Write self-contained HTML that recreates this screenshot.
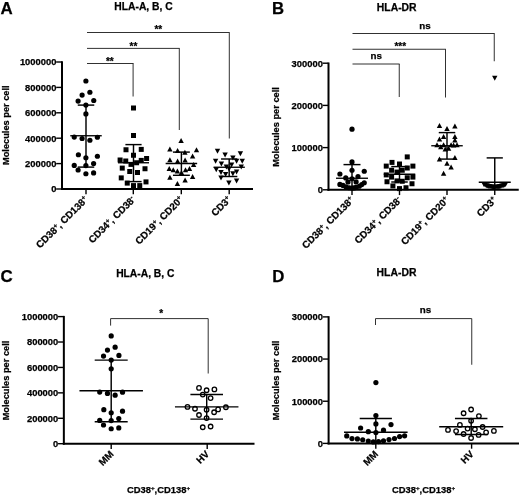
<!DOCTYPE html>
<html><head><meta charset="utf-8"><title>Figure</title>
<style>
html,body{margin:0;padding:0;background:#fff;}
body{width:520px;height:496px;overflow:hidden;font-family:"Liberation Sans",sans-serif;}
svg{display:block;will-change:transform;}
</style></head><body>
<svg width="520" height="496" viewBox="0 0 520 496">
<rect width="520" height="496" fill="#fff"/>
<text x="0.60" y="14.00" font-size="16.9" text-anchor="start" font-family="Liberation Sans, sans-serif" font-weight="bold" stroke="#000" stroke-width="0.25" >A</text>
<text x="143.50" y="9.70" font-size="10.3" text-anchor="middle" font-family="Liberation Sans, sans-serif" font-weight="bold" stroke="#000" stroke-width="0.25" >HLA-A, B, C</text>
<line x1="62.00" y1="61.30" x2="62.00" y2="190.00" stroke="#000" stroke-width="2.0" stroke-linecap="butt"/>
<line x1="61.00" y1="189.00" x2="253.00" y2="189.00" stroke="#000" stroke-width="2.0" stroke-linecap="butt"/>
<line x1="56.20" y1="189.00" x2="62.00" y2="189.00" stroke="#000" stroke-width="1.4" stroke-linecap="butt"/>
<text x="56.40" y="192.40" font-size="9.4" text-anchor="end" font-family="Liberation Sans, sans-serif" font-weight="bold" stroke="#000" stroke-width="0.25" >0</text>
<line x1="56.20" y1="163.60" x2="62.00" y2="163.60" stroke="#000" stroke-width="1.4" stroke-linecap="butt"/>
<text x="56.40" y="167.00" font-size="9.4" text-anchor="end" font-family="Liberation Sans, sans-serif" font-weight="bold" stroke="#000" stroke-width="0.25" >200000</text>
<line x1="56.20" y1="138.20" x2="62.00" y2="138.20" stroke="#000" stroke-width="1.4" stroke-linecap="butt"/>
<text x="56.40" y="141.60" font-size="9.4" text-anchor="end" font-family="Liberation Sans, sans-serif" font-weight="bold" stroke="#000" stroke-width="0.25" >400000</text>
<line x1="56.20" y1="112.80" x2="62.00" y2="112.80" stroke="#000" stroke-width="1.4" stroke-linecap="butt"/>
<text x="56.40" y="116.20" font-size="9.4" text-anchor="end" font-family="Liberation Sans, sans-serif" font-weight="bold" stroke="#000" stroke-width="0.25" >600000</text>
<line x1="56.20" y1="87.40" x2="62.00" y2="87.40" stroke="#000" stroke-width="1.4" stroke-linecap="butt"/>
<text x="56.40" y="90.80" font-size="9.4" text-anchor="end" font-family="Liberation Sans, sans-serif" font-weight="bold" stroke="#000" stroke-width="0.25" >800000</text>
<line x1="56.20" y1="62.00" x2="62.00" y2="62.00" stroke="#000" stroke-width="1.4" stroke-linecap="butt"/>
<text x="56.40" y="65.40" font-size="9.4" text-anchor="end" font-family="Liberation Sans, sans-serif" font-weight="bold" stroke="#000" stroke-width="0.25" >1000000</text>
<line x1="86.00" y1="189.00" x2="86.00" y2="194.30" stroke="#000" stroke-width="1.4" stroke-linecap="butt"/>
<line x1="133.30" y1="189.00" x2="133.30" y2="194.30" stroke="#000" stroke-width="1.4" stroke-linecap="butt"/>
<line x1="181.30" y1="189.00" x2="181.30" y2="194.30" stroke="#000" stroke-width="1.4" stroke-linecap="butt"/>
<line x1="229.20" y1="189.00" x2="229.20" y2="194.30" stroke="#000" stroke-width="1.4" stroke-linecap="butt"/>
<text transform="translate(8.60,125.20) rotate(-90)" font-size="9.25" text-anchor="middle" font-family="Liberation Sans, sans-serif" font-weight="bold" stroke="#000" stroke-width="0.25">Molecules per cell</text>
<line x1="87.00" y1="32.50" x2="229.60" y2="32.50" stroke="#1a1a1a" stroke-width="0.9" stroke-linecap="butt"/>
<line x1="229.30" y1="32.50" x2="229.30" y2="138.50" stroke="#1a1a1a" stroke-width="0.9" stroke-linecap="butt"/>
<line x1="87.00" y1="48.40" x2="179.70" y2="48.40" stroke="#1a1a1a" stroke-width="0.9" stroke-linecap="butt"/>
<line x1="179.30" y1="48.40" x2="179.30" y2="130.00" stroke="#1a1a1a" stroke-width="0.9" stroke-linecap="butt"/>
<line x1="87.00" y1="63.50" x2="133.50" y2="63.50" stroke="#1a1a1a" stroke-width="0.9" stroke-linecap="butt"/>
<line x1="133.10" y1="63.50" x2="133.10" y2="96.50" stroke="#1a1a1a" stroke-width="0.9" stroke-linecap="butt"/>
<text x="158.30" y="33.40" font-size="10" text-anchor="middle" font-family="Liberation Sans, sans-serif" font-weight="bold" stroke="#000" stroke-width="0.25" >**</text>
<text x="133.40" y="49.80" font-size="10" text-anchor="middle" font-family="Liberation Sans, sans-serif" font-weight="bold" stroke="#000" stroke-width="0.25" >**</text>
<text x="109.80" y="65.00" font-size="10" text-anchor="middle" font-family="Liberation Sans, sans-serif" font-weight="bold" stroke="#000" stroke-width="0.25" >**</text>
<line x1="70.25" y1="135.75" x2="101.75" y2="135.75" stroke="#000" stroke-width="1.35" stroke-linecap="butt"/>
<line x1="77.75" y1="105.10" x2="94.25" y2="105.10" stroke="#000" stroke-width="1.45" stroke-linecap="butt"/>
<line x1="77.75" y1="167.10" x2="94.25" y2="167.10" stroke="#000" stroke-width="1.45" stroke-linecap="butt"/>
<line x1="86.00" y1="105.10" x2="86.00" y2="167.10" stroke="#000" stroke-width="1.45" stroke-linecap="butt"/>
<circle cx="85.90" cy="81.00" r="2.6" fill="#000"/>
<circle cx="89.90" cy="92.25" r="2.6" fill="#000"/>
<circle cx="82.10" cy="95.10" r="2.6" fill="#000"/>
<circle cx="78.10" cy="101.10" r="2.6" fill="#000"/>
<circle cx="93.75" cy="100.50" r="2.6" fill="#000"/>
<circle cx="85.90" cy="105.10" r="2.6" fill="#000"/>
<circle cx="85.90" cy="113.90" r="2.6" fill="#000"/>
<circle cx="74.25" cy="137.10" r="2.6" fill="#000"/>
<circle cx="82.10" cy="138.50" r="2.6" fill="#000"/>
<circle cx="89.90" cy="140.25" r="2.6" fill="#000"/>
<circle cx="97.40" cy="137.25" r="2.6" fill="#000"/>
<circle cx="78.40" cy="154.75" r="2.6" fill="#000"/>
<circle cx="85.90" cy="157.75" r="2.6" fill="#000"/>
<circle cx="97.40" cy="156.25" r="2.6" fill="#000"/>
<circle cx="74.25" cy="165.40" r="2.6" fill="#000"/>
<circle cx="85.90" cy="165.60" r="2.6" fill="#000"/>
<circle cx="93.60" cy="163.50" r="2.6" fill="#000"/>
<circle cx="78.10" cy="170.00" r="2.6" fill="#000"/>
<circle cx="85.90" cy="173.75" r="2.6" fill="#000"/>
<circle cx="93.60" cy="172.90" r="2.6" fill="#000"/>
<line x1="118.00" y1="162.75" x2="149.00" y2="162.75" stroke="#000" stroke-width="1.35" stroke-linecap="butt"/>
<line x1="125.40" y1="144.60" x2="141.60" y2="144.60" stroke="#000" stroke-width="1.45" stroke-linecap="butt"/>
<line x1="125.40" y1="181.60" x2="141.60" y2="181.60" stroke="#000" stroke-width="1.45" stroke-linecap="butt"/>
<line x1="133.50" y1="144.60" x2="133.50" y2="181.60" stroke="#000" stroke-width="1.45" stroke-linecap="butt"/>
<rect x="131.00" y="105.50" width="5.0" height="5.0" fill="#000"/>
<rect x="131.00" y="133.00" width="5.0" height="5.0" fill="#000"/>
<rect x="123.50" y="147.25" width="5.0" height="5.0" fill="#000"/>
<rect x="138.75" y="146.90" width="5.0" height="5.0" fill="#000"/>
<rect x="131.00" y="152.75" width="5.0" height="5.0" fill="#000"/>
<rect x="117.60" y="157.50" width="5.0" height="5.0" fill="#000"/>
<rect x="123.25" y="158.50" width="5.0" height="5.0" fill="#000"/>
<rect x="138.75" y="157.90" width="5.0" height="5.0" fill="#000"/>
<rect x="144.10" y="156.00" width="5.0" height="5.0" fill="#000"/>
<rect x="128.50" y="161.90" width="5.0" height="5.0" fill="#000"/>
<rect x="134.10" y="160.25" width="5.0" height="5.0" fill="#000"/>
<rect x="119.75" y="165.60" width="5.0" height="5.0" fill="#000"/>
<rect x="142.50" y="166.25" width="5.0" height="5.0" fill="#000"/>
<rect x="127.25" y="169.00" width="5.0" height="5.0" fill="#000"/>
<rect x="135.00" y="170.00" width="5.0" height="5.0" fill="#000"/>
<rect x="118.75" y="175.40" width="5.0" height="5.0" fill="#000"/>
<rect x="143.50" y="179.40" width="5.0" height="5.0" fill="#000"/>
<rect x="124.75" y="180.60" width="5.0" height="5.0" fill="#000"/>
<rect x="131.00" y="183.10" width="5.0" height="5.0" fill="#000"/>
<rect x="137.25" y="183.10" width="5.0" height="5.0" fill="#000"/>
<line x1="165.65" y1="163.50" x2="197.15" y2="163.50" stroke="#000" stroke-width="1.35" stroke-linecap="butt"/>
<line x1="172.95" y1="152.10" x2="189.85" y2="152.10" stroke="#000" stroke-width="1.45" stroke-linecap="butt"/>
<line x1="172.95" y1="175.30" x2="189.85" y2="175.30" stroke="#000" stroke-width="1.45" stroke-linecap="butt"/>
<line x1="181.40" y1="152.10" x2="181.40" y2="175.30" stroke="#000" stroke-width="1.45" stroke-linecap="butt"/>
<polygon points="181.10,138.10 183.80,143.10 178.40,143.10" fill="#000"/>
<polygon points="169.90,146.60 172.60,151.60 167.20,151.60" fill="#000"/>
<polygon points="177.60,148.10 180.30,153.10 174.90,153.10" fill="#000"/>
<polygon points="184.90,149.75 187.60,154.75 182.20,154.75" fill="#000"/>
<polygon points="196.50,147.25 199.20,152.25 193.80,152.25" fill="#000"/>
<polygon points="192.60,153.40 195.30,158.40 189.90,158.40" fill="#000"/>
<polygon points="169.90,157.25 172.60,162.25 167.20,162.25" fill="#000"/>
<polygon points="177.60,158.40 180.30,163.40 174.90,163.40" fill="#000"/>
<polygon points="185.10,157.50 187.80,162.50 182.40,162.50" fill="#000"/>
<polygon points="193.60,161.90 196.30,166.90 190.90,166.90" fill="#000"/>
<polygon points="169.25,165.90 171.95,170.90 166.55,170.90" fill="#000"/>
<polygon points="173.25,167.25 175.95,172.25 170.55,172.25" fill="#000"/>
<polygon points="177.40,168.50 180.10,173.50 174.70,173.50" fill="#000"/>
<polygon points="181.50,170.00 184.20,175.00 178.80,175.00" fill="#000"/>
<polygon points="185.50,167.25 188.20,172.25 182.80,172.25" fill="#000"/>
<polygon points="189.50,166.00 192.20,171.00 186.80,171.00" fill="#000"/>
<polygon points="169.90,174.75 172.60,179.75 167.20,179.75" fill="#000"/>
<polygon points="192.60,174.10 195.30,179.10 189.90,179.10" fill="#000"/>
<polygon points="185.10,177.50 187.80,182.50 182.40,182.50" fill="#000"/>
<polygon points="177.40,181.00 180.10,186.00 174.70,186.00" fill="#000"/>
<line x1="213.55" y1="167.25" x2="244.85" y2="167.25" stroke="#000" stroke-width="1.35" stroke-linecap="butt"/>
<line x1="221.05" y1="159.00" x2="237.35" y2="159.00" stroke="#000" stroke-width="1.45" stroke-linecap="butt"/>
<line x1="221.05" y1="176.50" x2="237.35" y2="176.50" stroke="#000" stroke-width="1.45" stroke-linecap="butt"/>
<line x1="229.20" y1="159.00" x2="229.20" y2="176.50" stroke="#000" stroke-width="1.45" stroke-linecap="butt"/>
<polygon points="217.50,153.75 220.20,148.75 214.80,148.75" fill="#000"/>
<polygon points="225.10,157.50 227.80,152.50 222.40,152.50" fill="#000"/>
<polygon points="240.40,156.25 243.10,151.25 237.70,151.25" fill="#000"/>
<polygon points="232.90,160.60 235.60,155.60 230.20,155.60" fill="#000"/>
<polygon points="215.60,163.75 218.30,158.75 212.90,158.75" fill="#000"/>
<polygon points="236.60,163.75 239.30,158.75 233.90,158.75" fill="#000"/>
<polygon points="242.25,163.75 244.95,158.75 239.55,158.75" fill="#000"/>
<polygon points="221.40,166.50 224.10,161.50 218.70,161.50" fill="#000"/>
<polygon points="226.40,169.40 229.10,164.40 223.70,164.40" fill="#000"/>
<polygon points="231.60,167.50 234.30,162.50 228.90,162.50" fill="#000"/>
<polygon points="241.25,169.60 243.95,164.60 238.55,164.60" fill="#000"/>
<polygon points="216.25,172.25 218.95,167.25 213.55,167.25" fill="#000"/>
<polygon points="221.00,175.00 223.70,170.00 218.30,170.00" fill="#000"/>
<polygon points="236.60,174.40 239.30,169.40 233.90,169.40" fill="#000"/>
<polygon points="225.60,177.10 228.30,172.10 222.90,172.10" fill="#000"/>
<polygon points="232.90,176.25 235.60,171.25 230.20,171.25" fill="#000"/>
<polygon points="221.00,180.60 223.70,175.60 218.30,175.60" fill="#000"/>
<polygon points="236.60,183.50 239.30,178.50 233.90,178.50" fill="#000"/>
<polygon points="228.90,185.60 231.60,180.60 226.20,180.60" fill="#000"/>
<polygon points="229.00,171.50 231.70,166.50 226.30,166.50" fill="#000"/>
<text transform="translate(88.60,200.30) rotate(-45)" font-size="9.8" text-anchor="end" font-family="Liberation Sans, sans-serif" font-weight="bold" stroke="#000" stroke-width="0.25">CD38<tspan font-size="6.47" dy="-3.33">+</tspan><tspan dy="3.33" font-size="6.47">&#8203;</tspan>, CD138<tspan font-size="6.47" dy="-3.33">+</tspan><tspan dy="3.33" font-size="6.47">&#8203;</tspan></text>
<text transform="translate(135.90,200.30) rotate(-45)" font-size="9.8" text-anchor="end" font-family="Liberation Sans, sans-serif" font-weight="bold" stroke="#000" stroke-width="0.25">CD34<tspan font-size="6.47" dy="-3.33">+</tspan><tspan dy="3.33" font-size="6.47">&#8203;</tspan>, CD38<tspan font-size="6.47" dy="-3.33">-</tspan><tspan dy="3.33" font-size="6.47">&#8203;</tspan></text>
<text transform="translate(183.90,200.30) rotate(-45)" font-size="9.8" text-anchor="end" font-family="Liberation Sans, sans-serif" font-weight="bold" stroke="#000" stroke-width="0.25">CD19<tspan font-size="6.47" dy="-3.33">+</tspan><tspan dy="3.33" font-size="6.47">&#8203;</tspan>, CD20<tspan font-size="6.47" dy="-3.33">+</tspan><tspan dy="3.33" font-size="6.47">&#8203;</tspan></text>
<text transform="translate(231.80,200.30) rotate(-45)" font-size="9.8" text-anchor="end" font-family="Liberation Sans, sans-serif" font-weight="bold" stroke="#000" stroke-width="0.25">CD3<tspan font-size="6.47" dy="-3.33">+</tspan><tspan dy="3.33" font-size="6.47">&#8203;</tspan></text>
<text x="272.10" y="13.90" font-size="16.7" text-anchor="start" font-family="Liberation Sans, sans-serif" font-weight="bold" stroke="#000" stroke-width="0.25" >B</text>
<text x="396.70" y="10.50" font-size="10.4" text-anchor="middle" font-family="Liberation Sans, sans-serif" font-weight="bold" stroke="#000" stroke-width="0.25" >HLA-DR</text>
<line x1="328.50" y1="62.50" x2="328.50" y2="190.80" stroke="#000" stroke-width="2.0" stroke-linecap="butt"/>
<line x1="327.50" y1="189.80" x2="518.75" y2="189.80" stroke="#000" stroke-width="2.0" stroke-linecap="butt"/>
<line x1="322.70" y1="189.80" x2="328.50" y2="189.80" stroke="#000" stroke-width="1.4" stroke-linecap="butt"/>
<text x="322.90" y="193.20" font-size="9.4" text-anchor="end" font-family="Liberation Sans, sans-serif" font-weight="bold" stroke="#000" stroke-width="0.25" >0</text>
<line x1="322.70" y1="147.60" x2="328.50" y2="147.60" stroke="#000" stroke-width="1.4" stroke-linecap="butt"/>
<text x="322.90" y="151.00" font-size="9.4" text-anchor="end" font-family="Liberation Sans, sans-serif" font-weight="bold" stroke="#000" stroke-width="0.25" >100000</text>
<line x1="322.70" y1="105.40" x2="328.50" y2="105.40" stroke="#000" stroke-width="1.4" stroke-linecap="butt"/>
<text x="322.90" y="108.80" font-size="9.4" text-anchor="end" font-family="Liberation Sans, sans-serif" font-weight="bold" stroke="#000" stroke-width="0.25" >200000</text>
<line x1="322.70" y1="63.20" x2="328.50" y2="63.20" stroke="#000" stroke-width="1.4" stroke-linecap="butt"/>
<text x="322.90" y="66.60" font-size="9.4" text-anchor="end" font-family="Liberation Sans, sans-serif" font-weight="bold" stroke="#000" stroke-width="0.25" >300000</text>
<line x1="352.00" y1="189.80" x2="352.00" y2="195.10" stroke="#000" stroke-width="1.4" stroke-linecap="butt"/>
<line x1="399.50" y1="189.80" x2="399.50" y2="195.10" stroke="#000" stroke-width="1.4" stroke-linecap="butt"/>
<line x1="447.00" y1="189.80" x2="447.00" y2="195.10" stroke="#000" stroke-width="1.4" stroke-linecap="butt"/>
<line x1="494.75" y1="189.80" x2="494.75" y2="195.10" stroke="#000" stroke-width="1.4" stroke-linecap="butt"/>
<text transform="translate(278.80,127.00) rotate(-90)" font-size="9.25" text-anchor="middle" font-family="Liberation Sans, sans-serif" font-weight="bold" stroke="#000" stroke-width="0.25">Molecules per cell</text>
<line x1="352.50" y1="33.50" x2="494.60" y2="33.50" stroke="#1a1a1a" stroke-width="0.9" stroke-linecap="butt"/>
<line x1="494.25" y1="33.50" x2="494.25" y2="61.25" stroke="#1a1a1a" stroke-width="0.9" stroke-linecap="butt"/>
<line x1="352.50" y1="49.25" x2="445.90" y2="49.25" stroke="#1a1a1a" stroke-width="0.9" stroke-linecap="butt"/>
<line x1="445.50" y1="49.25" x2="445.50" y2="97.50" stroke="#1a1a1a" stroke-width="0.9" stroke-linecap="butt"/>
<line x1="352.50" y1="64.00" x2="399.60" y2="64.00" stroke="#1a1a1a" stroke-width="0.9" stroke-linecap="butt"/>
<line x1="399.25" y1="64.00" x2="399.25" y2="97.00" stroke="#1a1a1a" stroke-width="0.9" stroke-linecap="butt"/>
<text x="425.00" y="28.60" font-size="9.8" text-anchor="middle" font-family="Liberation Sans, sans-serif" font-weight="bold" stroke="#000" stroke-width="0.25" >ns</text>
<text x="400.30" y="50.00" font-size="10" text-anchor="middle" font-family="Liberation Sans, sans-serif" font-weight="bold" stroke="#000" stroke-width="0.25" >***</text>
<text x="376.30" y="58.70" font-size="9.8" text-anchor="middle" font-family="Liberation Sans, sans-serif" font-weight="bold" stroke="#000" stroke-width="0.25" >ns</text>
<line x1="336.00" y1="178.25" x2="368.00" y2="178.25" stroke="#000" stroke-width="1.35" stroke-linecap="butt"/>
<line x1="343.50" y1="164.60" x2="360.50" y2="164.60" stroke="#000" stroke-width="1.45" stroke-linecap="butt"/>
<line x1="352.00" y1="164.60" x2="352.00" y2="189.80" stroke="#000" stroke-width="1.45" stroke-linecap="butt"/>
<circle cx="352.00" cy="129.20" r="2.6" fill="#000"/>
<circle cx="352.00" cy="161.90" r="2.6" fill="#000"/>
<circle cx="352.00" cy="170.25" r="2.6" fill="#000"/>
<circle cx="364.25" cy="171.25" r="2.6" fill="#000"/>
<circle cx="339.90" cy="174.00" r="2.6" fill="#000"/>
<circle cx="358.00" cy="176.60" r="2.6" fill="#000"/>
<circle cx="345.75" cy="177.90" r="2.6" fill="#000"/>
<circle cx="352.00" cy="178.75" r="2.6" fill="#000"/>
<circle cx="348.00" cy="181.90" r="2.6" fill="#000"/>
<circle cx="356.10" cy="181.90" r="2.6" fill="#000"/>
<circle cx="364.25" cy="182.75" r="2.6" fill="#000"/>
<circle cx="339.90" cy="184.40" r="2.6" fill="#000"/>
<circle cx="361.75" cy="184.60" r="2.6" fill="#000"/>
<circle cx="343.00" cy="185.40" r="2.6" fill="#000"/>
<circle cx="359.25" cy="186.25" r="2.6" fill="#000"/>
<circle cx="346.10" cy="186.90" r="2.6" fill="#000"/>
<circle cx="356.10" cy="187.25" r="2.6" fill="#000"/>
<circle cx="349.25" cy="187.75" r="2.6" fill="#000"/>
<circle cx="352.00" cy="188.10" r="2.6" fill="#000"/>
<circle cx="354.00" cy="187.90" r="2.6" fill="#000"/>
<line x1="383.75" y1="174.20" x2="415.25" y2="174.20" stroke="#000" stroke-width="1.35" stroke-linecap="butt"/>
<line x1="391.25" y1="166.60" x2="407.75" y2="166.60" stroke="#000" stroke-width="1.45" stroke-linecap="butt"/>
<line x1="391.25" y1="182.00" x2="407.75" y2="182.00" stroke="#000" stroke-width="1.45" stroke-linecap="butt"/>
<line x1="399.50" y1="166.60" x2="399.50" y2="182.00" stroke="#000" stroke-width="1.45" stroke-linecap="butt"/>
<rect x="404.75" y="154.40" width="5.0" height="5.0" fill="#000"/>
<rect x="389.50" y="159.90" width="5.0" height="5.0" fill="#000"/>
<rect x="397.00" y="161.50" width="5.0" height="5.0" fill="#000"/>
<rect x="383.75" y="163.60" width="5.0" height="5.0" fill="#000"/>
<rect x="410.40" y="163.60" width="5.0" height="5.0" fill="#000"/>
<rect x="404.75" y="165.50" width="5.0" height="5.0" fill="#000"/>
<rect x="389.10" y="167.75" width="5.0" height="5.0" fill="#000"/>
<rect x="399.75" y="167.75" width="5.0" height="5.0" fill="#000"/>
<rect x="394.50" y="169.60" width="5.0" height="5.0" fill="#000"/>
<rect x="383.75" y="172.40" width="5.0" height="5.0" fill="#000"/>
<rect x="389.10" y="174.60" width="5.0" height="5.0" fill="#000"/>
<rect x="404.75" y="175.25" width="5.0" height="5.0" fill="#000"/>
<rect x="410.40" y="174.60" width="5.0" height="5.0" fill="#000"/>
<rect x="394.50" y="178.40" width="5.0" height="5.0" fill="#000"/>
<rect x="399.75" y="178.75" width="5.0" height="5.0" fill="#000"/>
<rect x="384.50" y="179.25" width="5.0" height="5.0" fill="#000"/>
<rect x="409.50" y="181.25" width="5.0" height="5.0" fill="#000"/>
<rect x="390.40" y="183.40" width="5.0" height="5.0" fill="#000"/>
<rect x="403.50" y="185.25" width="5.0" height="5.0" fill="#000"/>
<rect x="397.00" y="186.10" width="5.0" height="5.0" fill="#000"/>
<line x1="431.25" y1="145.75" x2="462.75" y2="145.75" stroke="#000" stroke-width="1.35" stroke-linecap="butt"/>
<line x1="438.75" y1="132.60" x2="455.25" y2="132.60" stroke="#000" stroke-width="1.45" stroke-linecap="butt"/>
<line x1="438.75" y1="159.10" x2="455.25" y2="159.10" stroke="#000" stroke-width="1.45" stroke-linecap="butt"/>
<line x1="447.00" y1="132.60" x2="447.00" y2="159.10" stroke="#000" stroke-width="1.45" stroke-linecap="butt"/>
<polygon points="439.50,122.90 442.20,127.90 436.80,127.90" fill="#000"/>
<polygon points="454.90,123.50 457.60,128.50 452.20,128.50" fill="#000"/>
<polygon points="447.00,126.10 449.70,131.10 444.30,131.10" fill="#000"/>
<polygon points="443.60,133.90 446.30,138.90 440.90,138.90" fill="#000"/>
<polygon points="454.90,134.10 457.60,139.10 452.20,139.10" fill="#000"/>
<polygon points="439.50,136.40 442.20,141.40 436.80,141.40" fill="#000"/>
<polygon points="454.90,137.60 457.60,142.60 452.20,142.60" fill="#000"/>
<polygon points="437.00,142.25 439.70,147.25 434.30,147.25" fill="#000"/>
<polygon points="443.60,142.25 446.30,147.25 440.90,147.25" fill="#000"/>
<polygon points="451.10,142.25 453.80,147.25 448.40,147.25" fill="#000"/>
<polygon points="457.00,142.25 459.70,147.25 454.30,147.25" fill="#000"/>
<polygon points="440.75,144.25 443.45,149.25 438.05,149.25" fill="#000"/>
<polygon points="453.60,142.60 456.30,147.60 450.90,147.60" fill="#000"/>
<polygon points="445.25,146.60 447.95,151.60 442.55,151.60" fill="#000"/>
<polygon points="448.60,145.75 451.30,150.75 445.90,150.75" fill="#000"/>
<polygon points="439.50,156.40 442.20,161.40 436.80,161.40" fill="#000"/>
<polygon points="454.90,155.10 457.60,160.10 452.20,160.10" fill="#000"/>
<polygon points="447.00,160.75 449.70,165.75 444.30,165.75" fill="#000"/>
<polygon points="451.10,164.50 453.80,169.50 448.40,169.50" fill="#000"/>
<polygon points="443.60,170.75 446.30,175.75 440.90,175.75" fill="#000"/>
<polygon points="494.75,80.75 497.45,75.75 492.05,75.75" fill="#000"/>
<line x1="478.75" y1="182.25" x2="510.75" y2="182.25" stroke="#000" stroke-width="1.35" stroke-linecap="butt"/>
<line x1="486.65" y1="157.90" x2="502.85" y2="157.90" stroke="#000" stroke-width="1.45" stroke-linecap="butt"/>
<line x1="494.75" y1="157.90" x2="494.75" y2="189.80" stroke="#000" stroke-width="1.45" stroke-linecap="butt"/>
<polygon points="483.95,187.00 486.65,182.00 481.25,182.00" fill="#000"/>
<polygon points="485.15,187.61 487.85,182.61 482.45,182.61" fill="#000"/>
<polygon points="486.35,188.15 489.05,183.15 483.65,183.15" fill="#000"/>
<polygon points="487.55,188.61 490.25,183.61 484.85,183.61" fill="#000"/>
<polygon points="488.75,189.00 491.45,184.00 486.05,184.00" fill="#000"/>
<polygon points="489.95,189.33 492.65,184.33 487.25,184.33" fill="#000"/>
<polygon points="491.15,189.58 493.85,184.58 488.45,184.58" fill="#000"/>
<polygon points="492.35,189.76 495.05,184.76 489.65,184.76" fill="#000"/>
<polygon points="493.55,189.86 496.25,184.86 490.85,184.86" fill="#000"/>
<polygon points="494.75,189.90 497.45,184.90 492.05,184.90" fill="#000"/>
<polygon points="495.95,189.86 498.65,184.86 493.25,184.86" fill="#000"/>
<polygon points="497.15,189.76 499.85,184.76 494.45,184.76" fill="#000"/>
<polygon points="498.35,189.58 501.05,184.58 495.65,184.58" fill="#000"/>
<polygon points="499.55,189.33 502.25,184.33 496.85,184.33" fill="#000"/>
<polygon points="500.75,189.00 503.45,184.00 498.05,184.00" fill="#000"/>
<polygon points="501.95,188.61 504.65,183.61 499.25,183.61" fill="#000"/>
<polygon points="503.15,188.15 505.85,183.15 500.45,183.15" fill="#000"/>
<polygon points="504.35,187.61 507.05,182.61 501.65,182.61" fill="#000"/>
<polygon points="505.55,187.00 508.25,182.00 502.85,182.00" fill="#000"/>
<text transform="translate(354.60,200.80) rotate(-45)" font-size="9.8" text-anchor="end" font-family="Liberation Sans, sans-serif" font-weight="bold" stroke="#000" stroke-width="0.25">CD38<tspan font-size="6.47" dy="-3.33">+</tspan><tspan dy="3.33" font-size="6.47">&#8203;</tspan>, CD138<tspan font-size="6.47" dy="-3.33">+</tspan><tspan dy="3.33" font-size="6.47">&#8203;</tspan></text>
<text transform="translate(402.10,200.80) rotate(-45)" font-size="9.8" text-anchor="end" font-family="Liberation Sans, sans-serif" font-weight="bold" stroke="#000" stroke-width="0.25">CD34<tspan font-size="6.47" dy="-3.33">+</tspan><tspan dy="3.33" font-size="6.47">&#8203;</tspan>, CD38<tspan font-size="6.47" dy="-3.33">-</tspan><tspan dy="3.33" font-size="6.47">&#8203;</tspan></text>
<text transform="translate(449.60,200.80) rotate(-45)" font-size="9.8" text-anchor="end" font-family="Liberation Sans, sans-serif" font-weight="bold" stroke="#000" stroke-width="0.25">CD19<tspan font-size="6.47" dy="-3.33">+</tspan><tspan dy="3.33" font-size="6.47">&#8203;</tspan>, CD20<tspan font-size="6.47" dy="-3.33">+</tspan><tspan dy="3.33" font-size="6.47">&#8203;</tspan></text>
<text transform="translate(497.35,200.80) rotate(-45)" font-size="9.8" text-anchor="end" font-family="Liberation Sans, sans-serif" font-weight="bold" stroke="#000" stroke-width="0.25">CD3<tspan font-size="6.47" dy="-3.33">+</tspan><tspan dy="3.33" font-size="6.47">&#8203;</tspan></text>
<text x="0.50" y="281.80" font-size="16.9" text-anchor="start" font-family="Liberation Sans, sans-serif" font-weight="bold" stroke="#000" stroke-width="0.25" >C</text>
<text x="145.30" y="276.50" font-size="10.3" text-anchor="middle" font-family="Liberation Sans, sans-serif" font-weight="bold" stroke="#000" stroke-width="0.25" >HLA-A, B, C</text>
<line x1="63.85" y1="315.90" x2="63.85" y2="444.70" stroke="#000" stroke-width="2.0" stroke-linecap="butt"/>
<line x1="62.85" y1="443.70" x2="254.50" y2="443.70" stroke="#000" stroke-width="2.0" stroke-linecap="butt"/>
<line x1="58.05" y1="443.70" x2="63.85" y2="443.70" stroke="#000" stroke-width="1.4" stroke-linecap="butt"/>
<text x="58.25" y="447.10" font-size="9.4" text-anchor="end" font-family="Liberation Sans, sans-serif" font-weight="bold" stroke="#000" stroke-width="0.25" >0</text>
<line x1="58.05" y1="418.28" x2="63.85" y2="418.28" stroke="#000" stroke-width="1.4" stroke-linecap="butt"/>
<text x="58.25" y="421.68" font-size="9.4" text-anchor="end" font-family="Liberation Sans, sans-serif" font-weight="bold" stroke="#000" stroke-width="0.25" >200000</text>
<line x1="58.05" y1="392.86" x2="63.85" y2="392.86" stroke="#000" stroke-width="1.4" stroke-linecap="butt"/>
<text x="58.25" y="396.26" font-size="9.4" text-anchor="end" font-family="Liberation Sans, sans-serif" font-weight="bold" stroke="#000" stroke-width="0.25" >400000</text>
<line x1="58.05" y1="367.44" x2="63.85" y2="367.44" stroke="#000" stroke-width="1.4" stroke-linecap="butt"/>
<text x="58.25" y="370.84" font-size="9.4" text-anchor="end" font-family="Liberation Sans, sans-serif" font-weight="bold" stroke="#000" stroke-width="0.25" >600000</text>
<line x1="58.05" y1="342.02" x2="63.85" y2="342.02" stroke="#000" stroke-width="1.4" stroke-linecap="butt"/>
<text x="58.25" y="345.42" font-size="9.4" text-anchor="end" font-family="Liberation Sans, sans-serif" font-weight="bold" stroke="#000" stroke-width="0.25" >800000</text>
<line x1="58.05" y1="316.60" x2="63.85" y2="316.60" stroke="#000" stroke-width="1.4" stroke-linecap="butt"/>
<text x="58.25" y="320.00" font-size="9.4" text-anchor="end" font-family="Liberation Sans, sans-serif" font-weight="bold" stroke="#000" stroke-width="0.25" >1000000</text>
<line x1="111.20" y1="443.70" x2="111.20" y2="449.00" stroke="#000" stroke-width="1.4" stroke-linecap="butt"/>
<line x1="207.20" y1="443.70" x2="207.20" y2="449.00" stroke="#000" stroke-width="1.4" stroke-linecap="butt"/>
<text transform="translate(9.20,380.50) rotate(-90)" font-size="9.25" text-anchor="middle" font-family="Liberation Sans, sans-serif" font-weight="bold" stroke="#000" stroke-width="0.25">Molecules per cell</text>
<polyline points="110.60,325.60 110.60,318.60 208.20,318.60 208.20,373.50" fill="none" stroke="#1a1a1a" stroke-width="0.9"/>
<text x="161.30" y="317.30" font-size="10" text-anchor="middle" font-family="Liberation Sans, sans-serif" font-weight="bold" stroke="#000" stroke-width="0.25" >*</text>
<line x1="79.45" y1="390.75" x2="142.95" y2="390.75" stroke="#000" stroke-width="1.35" stroke-linecap="butt"/>
<line x1="94.70" y1="360.10" x2="127.70" y2="360.10" stroke="#000" stroke-width="1.45" stroke-linecap="butt"/>
<line x1="94.70" y1="421.75" x2="127.70" y2="421.75" stroke="#000" stroke-width="1.45" stroke-linecap="butt"/>
<line x1="111.20" y1="360.10" x2="111.20" y2="421.75" stroke="#000" stroke-width="1.45" stroke-linecap="butt"/>
<circle cx="111.20" cy="335.91" r="2.6" fill="#000"/>
<circle cx="115.14" cy="347.17" r="2.6" fill="#000"/>
<circle cx="107.46" cy="350.03" r="2.6" fill="#000"/>
<circle cx="103.52" cy="356.03" r="2.6" fill="#000"/>
<circle cx="118.93" cy="355.43" r="2.6" fill="#000"/>
<circle cx="111.20" cy="360.03" r="2.6" fill="#000"/>
<circle cx="111.20" cy="368.84" r="2.6" fill="#000"/>
<circle cx="99.72" cy="392.06" r="2.6" fill="#000"/>
<circle cx="107.46" cy="393.46" r="2.6" fill="#000"/>
<circle cx="115.14" cy="395.21" r="2.6" fill="#000"/>
<circle cx="122.53" cy="392.21" r="2.6" fill="#000"/>
<circle cx="103.81" cy="409.72" r="2.6" fill="#000"/>
<circle cx="111.20" cy="412.73" r="2.6" fill="#000"/>
<circle cx="122.53" cy="411.22" r="2.6" fill="#000"/>
<circle cx="99.72" cy="420.38" r="2.6" fill="#000"/>
<circle cx="111.20" cy="420.58" r="2.6" fill="#000"/>
<circle cx="118.78" cy="418.48" r="2.6" fill="#000"/>
<circle cx="103.52" cy="424.99" r="2.6" fill="#000"/>
<circle cx="111.20" cy="428.74" r="2.6" fill="#000"/>
<circle cx="118.78" cy="427.89" r="2.6" fill="#000"/>
<line x1="174.95" y1="406.90" x2="238.45" y2="406.90" stroke="#000" stroke-width="1.35" stroke-linecap="butt"/>
<line x1="190.40" y1="394.40" x2="223.00" y2="394.40" stroke="#000" stroke-width="1.45" stroke-linecap="butt"/>
<line x1="190.40" y1="419.10" x2="223.00" y2="419.10" stroke="#000" stroke-width="1.45" stroke-linecap="butt"/>
<line x1="206.70" y1="394.40" x2="206.70" y2="419.10" stroke="#000" stroke-width="1.45" stroke-linecap="butt"/>
<circle cx="199.00" cy="387.90" r="2.25" fill="none" stroke="#000" stroke-width="1.3"/>
<circle cx="206.60" cy="390.25" r="2.25" fill="none" stroke="#000" stroke-width="1.3"/>
<circle cx="214.40" cy="389.40" r="2.25" fill="none" stroke="#000" stroke-width="1.3"/>
<circle cx="202.75" cy="394.60" r="2.25" fill="none" stroke="#000" stroke-width="1.3"/>
<circle cx="210.60" cy="398.10" r="2.25" fill="none" stroke="#000" stroke-width="1.3"/>
<circle cx="187.50" cy="406.90" r="2.25" fill="none" stroke="#000" stroke-width="1.3"/>
<circle cx="195.00" cy="408.75" r="2.25" fill="none" stroke="#000" stroke-width="1.3"/>
<circle cx="206.60" cy="409.75" r="2.25" fill="none" stroke="#000" stroke-width="1.3"/>
<circle cx="218.10" cy="409.40" r="2.25" fill="none" stroke="#000" stroke-width="1.3"/>
<circle cx="225.90" cy="407.25" r="2.25" fill="none" stroke="#000" stroke-width="1.3"/>
<circle cx="214.10" cy="412.25" r="2.25" fill="none" stroke="#000" stroke-width="1.3"/>
<circle cx="199.00" cy="415.00" r="2.25" fill="none" stroke="#000" stroke-width="1.3"/>
<circle cx="206.60" cy="418.10" r="2.25" fill="none" stroke="#000" stroke-width="1.3"/>
<circle cx="202.75" cy="427.25" r="2.25" fill="none" stroke="#000" stroke-width="1.3"/>
<circle cx="210.60" cy="426.50" r="2.25" fill="none" stroke="#000" stroke-width="1.3"/>
<text transform="translate(114.20,454.70) rotate(-45)" font-size="9.8" text-anchor="end" font-family="Liberation Sans, sans-serif" font-weight="bold" stroke="#000" stroke-width="0.25">MM</text>
<text transform="translate(209.90,454.70) rotate(-45)" font-size="9.8" text-anchor="end" font-family="Liberation Sans, sans-serif" font-weight="bold" stroke="#000" stroke-width="0.25">HV</text>
<text x="127" y="492.9" font-size="9.4" font-family="Liberation Sans, sans-serif" font-weight="bold" stroke="#000" stroke-width="0.25">CD38<tspan font-size="6.2" dy="-3.2">+</tspan><tspan dy="3.2" font-size="6.2">&#8203;</tspan>,CD138<tspan font-size="6.2" dy="-3.2">+</tspan><tspan dy="3.2" font-size="6.2">&#8203;</tspan></text>
<text x="272.30" y="281.60" font-size="16.8" text-anchor="start" font-family="Liberation Sans, sans-serif" font-weight="bold" stroke="#000" stroke-width="0.25" >D</text>
<text x="396.50" y="275.90" font-size="10.4" text-anchor="middle" font-family="Liberation Sans, sans-serif" font-weight="bold" stroke="#000" stroke-width="0.25" >HLA-DR</text>
<line x1="328.60" y1="316.19" x2="328.60" y2="444.40" stroke="#000" stroke-width="2.0" stroke-linecap="butt"/>
<line x1="327.60" y1="443.40" x2="519.00" y2="443.40" stroke="#000" stroke-width="2.0" stroke-linecap="butt"/>
<line x1="322.80" y1="443.40" x2="328.60" y2="443.40" stroke="#000" stroke-width="1.4" stroke-linecap="butt"/>
<text x="323.00" y="446.80" font-size="9.4" text-anchor="end" font-family="Liberation Sans, sans-serif" font-weight="bold" stroke="#000" stroke-width="0.25" >0</text>
<line x1="322.80" y1="401.23" x2="328.60" y2="401.23" stroke="#000" stroke-width="1.4" stroke-linecap="butt"/>
<text x="323.00" y="404.63" font-size="9.4" text-anchor="end" font-family="Liberation Sans, sans-serif" font-weight="bold" stroke="#000" stroke-width="0.25" >100000</text>
<line x1="322.80" y1="359.06" x2="328.60" y2="359.06" stroke="#000" stroke-width="1.4" stroke-linecap="butt"/>
<text x="323.00" y="362.46" font-size="9.4" text-anchor="end" font-family="Liberation Sans, sans-serif" font-weight="bold" stroke="#000" stroke-width="0.25" >200000</text>
<line x1="322.80" y1="316.89" x2="328.60" y2="316.89" stroke="#000" stroke-width="1.4" stroke-linecap="butt"/>
<text x="323.00" y="320.29" font-size="9.4" text-anchor="end" font-family="Liberation Sans, sans-serif" font-weight="bold" stroke="#000" stroke-width="0.25" >300000</text>
<line x1="375.80" y1="443.40" x2="375.80" y2="448.70" stroke="#000" stroke-width="1.4" stroke-linecap="butt"/>
<line x1="471.60" y1="443.40" x2="471.60" y2="448.70" stroke="#000" stroke-width="1.4" stroke-linecap="butt"/>
<text transform="translate(278.80,380.40) rotate(-90)" font-size="9.25" text-anchor="middle" font-family="Liberation Sans, sans-serif" font-weight="bold" stroke="#000" stroke-width="0.25">Molecules per cell</text>
<polyline points="375.50,325.00 375.50,318.60 471.75,318.60 471.75,364.75" fill="none" stroke="#1a1a1a" stroke-width="0.9"/>
<text x="425.50" y="313.30" font-size="9.8" text-anchor="middle" font-family="Liberation Sans, sans-serif" font-weight="bold" stroke="#000" stroke-width="0.25" >ns</text>
<line x1="344.00" y1="432.20" x2="407.60" y2="432.20" stroke="#000" stroke-width="1.35" stroke-linecap="butt"/>
<line x1="359.70" y1="418.50" x2="391.90" y2="418.50" stroke="#000" stroke-width="1.45" stroke-linecap="butt"/>
<line x1="375.80" y1="418.50" x2="375.80" y2="443.40" stroke="#000" stroke-width="1.45" stroke-linecap="butt"/>
<circle cx="375.90" cy="382.60" r="2.6" fill="#000"/>
<circle cx="375.90" cy="415.50" r="2.6" fill="#000"/>
<circle cx="375.90" cy="423.90" r="2.6" fill="#000"/>
<circle cx="391.00" cy="424.60" r="2.6" fill="#000"/>
<circle cx="360.60" cy="428.00" r="2.6" fill="#000"/>
<circle cx="383.50" cy="430.20" r="2.6" fill="#000"/>
<circle cx="368.30" cy="431.70" r="2.6" fill="#000"/>
<circle cx="375.90" cy="432.50" r="2.6" fill="#000"/>
<circle cx="404.60" cy="435.80" r="2.6" fill="#000"/>
<circle cx="399.60" cy="436.60" r="2.6" fill="#000"/>
<circle cx="394.50" cy="438.50" r="2.6" fill="#000"/>
<circle cx="389.00" cy="439.60" r="2.6" fill="#000"/>
<circle cx="383.50" cy="440.80" r="2.6" fill="#000"/>
<circle cx="378.50" cy="441.60" r="2.6" fill="#000"/>
<circle cx="373.30" cy="441.90" r="2.6" fill="#000"/>
<circle cx="368.30" cy="441.10" r="2.6" fill="#000"/>
<circle cx="362.70" cy="439.75" r="2.6" fill="#000"/>
<circle cx="346.75" cy="435.90" r="2.6" fill="#000"/>
<circle cx="352.00" cy="438.60" r="2.6" fill="#000"/>
<circle cx="357.40" cy="438.90" r="2.6" fill="#000"/>
<line x1="439.20" y1="426.75" x2="503.20" y2="426.75" stroke="#000" stroke-width="1.35" stroke-linecap="butt"/>
<line x1="454.95" y1="418.40" x2="487.45" y2="418.40" stroke="#000" stroke-width="1.45" stroke-linecap="butt"/>
<line x1="454.95" y1="434.50" x2="487.45" y2="434.50" stroke="#000" stroke-width="1.45" stroke-linecap="butt"/>
<line x1="471.20" y1="418.40" x2="471.20" y2="434.50" stroke="#000" stroke-width="1.45" stroke-linecap="butt"/>
<circle cx="471.10" cy="409.50" r="2.25" fill="none" stroke="#000" stroke-width="1.3"/>
<circle cx="463.60" cy="413.25" r="2.25" fill="none" stroke="#000" stroke-width="1.3"/>
<circle cx="478.90" cy="416.10" r="2.25" fill="none" stroke="#000" stroke-width="1.3"/>
<circle cx="471.10" cy="420.75" r="2.25" fill="none" stroke="#000" stroke-width="1.3"/>
<circle cx="459.90" cy="424.90" r="2.25" fill="none" stroke="#000" stroke-width="1.3"/>
<circle cx="482.60" cy="427.00" r="2.25" fill="none" stroke="#000" stroke-width="1.3"/>
<circle cx="467.60" cy="428.60" r="2.25" fill="none" stroke="#000" stroke-width="1.3"/>
<circle cx="474.90" cy="429.25" r="2.25" fill="none" stroke="#000" stroke-width="1.3"/>
<circle cx="448.00" cy="429.90" r="2.25" fill="none" stroke="#000" stroke-width="1.3"/>
<circle cx="456.10" cy="431.10" r="2.25" fill="none" stroke="#000" stroke-width="1.3"/>
<circle cx="493.90" cy="430.90" r="2.25" fill="none" stroke="#000" stroke-width="1.3"/>
<circle cx="486.10" cy="432.40" r="2.25" fill="none" stroke="#000" stroke-width="1.3"/>
<circle cx="463.60" cy="434.00" r="2.25" fill="none" stroke="#000" stroke-width="1.3"/>
<circle cx="478.60" cy="434.90" r="2.25" fill="none" stroke="#000" stroke-width="1.3"/>
<circle cx="471.10" cy="438.00" r="2.25" fill="none" stroke="#000" stroke-width="1.3"/>
<text transform="translate(378.80,454.70) rotate(-45)" font-size="9.8" text-anchor="end" font-family="Liberation Sans, sans-serif" font-weight="bold" stroke="#000" stroke-width="0.25">MM</text>
<text transform="translate(474.40,454.70) rotate(-45)" font-size="9.8" text-anchor="end" font-family="Liberation Sans, sans-serif" font-weight="bold" stroke="#000" stroke-width="0.25">HV</text>
<text x="392" y="492.9" font-size="9.4" font-family="Liberation Sans, sans-serif" font-weight="bold" stroke="#000" stroke-width="0.25">CD38<tspan font-size="6.2" dy="-3.2">+</tspan><tspan dy="3.2" font-size="6.2">&#8203;</tspan>,CD138<tspan font-size="6.2" dy="-3.2">+</tspan><tspan dy="3.2" font-size="6.2">&#8203;</tspan></text>
</svg>
</body></html>
